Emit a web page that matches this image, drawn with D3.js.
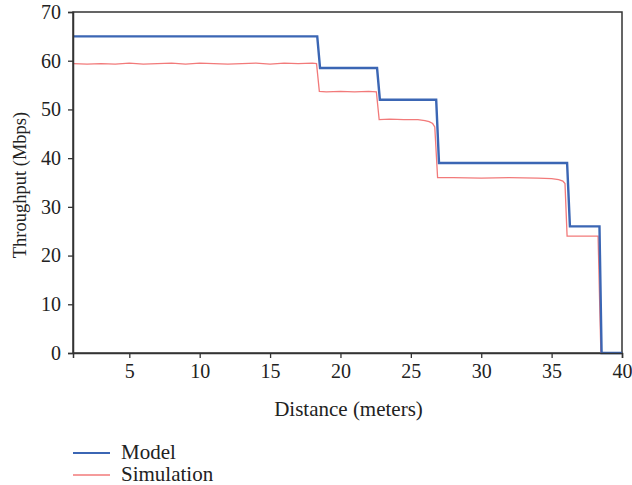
<!DOCTYPE html>
<html>
<head>
<meta charset="utf-8">
<script src="https://cdn.jsdelivr.net/npm/d3@7"></script>
<style>
  body { margin: 0; background: #fff; }
</style>
</head>
<body>
<svg></svg>
<script>
// model curve (distance in meters, throughput in Mbps)
const modelDist = [1, 18.35, 18.55, 22.6, 22.8, 26.8, 27.0, 36.1, 36.3, 38.4, 38.55, 40];
const modelThr  = [65, 65, 58.5, 58.5, 52, 52, 39, 39, 26, 26, 0, 0];

// simulation curve
const simDist = [1, 2, 3, 4, 5, 6, 7, 8, 9, 10, 11, 12, 13, 14, 15, 16, 17, 18, 18.3,
    18.5, 19, 20, 21, 22, 22.55,
    22.75, 23.5, 24.5, 25.5, 26, 26.3, 26.55, 26.7,
    26.9, 28, 30, 32, 34, 35, 35.5, 35.8, 35.95,
    36.1, 37, 38, 38.3, 38.5, 40];
const simThr = [59.4, 59.3, 59.4, 59.3, 59.5, 59.3, 59.4, 59.5, 59.3, 59.5, 59.4, 59.3, 59.4, 59.5, 59.3, 59.5, 59.4, 59.5, 59.4,
    53.7, 53.6, 53.7, 53.6, 53.7, 53.6,
    47.9, 48.0, 47.9, 47.9, 47.7, 47.5, 47.1, 46.4,
    36.0, 36.0, 35.9, 36.0, 35.9, 35.8, 35.6, 35.3, 34.8,
    24.0, 24.0, 24.0, 24.0, 0, 0];

const yTicks = [0, 10, 20, 30, 40, 50, 60, 70];
const xTicks = [5, 10, 15, 20, 25, 30, 35, 40];

const legendNames = ["Model", "Simulation"];
const colors = ["#3b66b4", "#f27a7a"];

const FONT = "'Liberation Serif'";

const width = 632, height = 485;
const margin = {left: 73, right: 10, top: 12, bottom: 132};

const svg = d3.select("svg").attr("width", width).attr("height", height);

const x = d3.scaleLinear().domain([1, 40]).range([margin.left, width - margin.right]);
const y = d3.scaleLinear().domain([0, 70]).range([height - margin.bottom, margin.top]);

// frame
svg.append("rect")
    .attr("x", x(1)).attr("y", y(70))
    .attr("width", x(40) - x(1)).attr("height", y(0) - y(70))
    .attr("fill", "none").attr("stroke", "#333").attr("stroke-width", 1.5);

const line = d3.line().x(d => x(d[0])).y(d => y(d[1]));

svg.append("path")
    .datum(simDist.map((d, i) => [d, simThr[i]]))
    .attr("d", line)
    .attr("fill", "none").attr("stroke", colors[1]).attr("stroke-width", 1.3);

svg.append("path")
    .datum(modelDist.map((d, i) => [d, modelThr[i]]))
    .attr("d", line)
    .attr("fill", "none").attr("stroke", colors[0]).attr("stroke-width", 2.4);

// axes
const xAxis = svg.append("g")
    .attr("transform", "translate(0," + y(0) + ")")
    .call(d3.axisBottom(x).tickValues(xTicks).tickSize(5).tickPadding(6));
const yAxis = svg.append("g")
    .attr("transform", "translate(" + x(1) + ",0)")
    .call(d3.axisLeft(y).tickValues(yTicks).tickSize(5).tickPadding(7));

[xAxis, yAxis].forEach(function(g) {
    g.attr("font-family", FONT).attr("font-size", 20);
    g.select(".domain").attr("stroke", "#333").attr("stroke-width", 1.5);
    g.selectAll(".tick line").attr("stroke", "#333").attr("stroke-width", 1.3);
    g.selectAll(".tick text").attr("fill", "#222");
});

svg.append("text")
    .attr("x", (x(1) + x(40)) / 2 + 1).attr("y", 416)
    .attr("text-anchor", "middle")
    .attr("font-family", FONT).attr("font-size", 21).attr("fill", "#222")
    .text("Distance (meters)");

svg.append("text")
    .attr("transform", "translate(26,185) rotate(-90)")
    .attr("text-anchor", "middle")
    .attr("font-family", FONT).attr("font-size", 18.5).attr("fill", "#222")
    .text("Throughput (Mbps)");

// legend
const legend = svg.selectAll(".legend")
    .data(legendNames)
    .join("g")
    .attr("class", "legend")
    .attr("transform", (d, i) => "translate(73," + (453 + i * 22) + ")");

legend.append("line")
    .attr("x1", 0).attr("x2", 37)
    .attr("stroke", (d, i) => colors[i])
    .attr("stroke-width", (d, i) => i == 0 ? 2 : 1.3);

legend.append("text")
    .attr("x", 48).attr("y", 6)
    .attr("font-family", FONT).attr("font-size", 21).attr("fill", "#222")
    .text(d => d);
</script>
</body>
</html>
